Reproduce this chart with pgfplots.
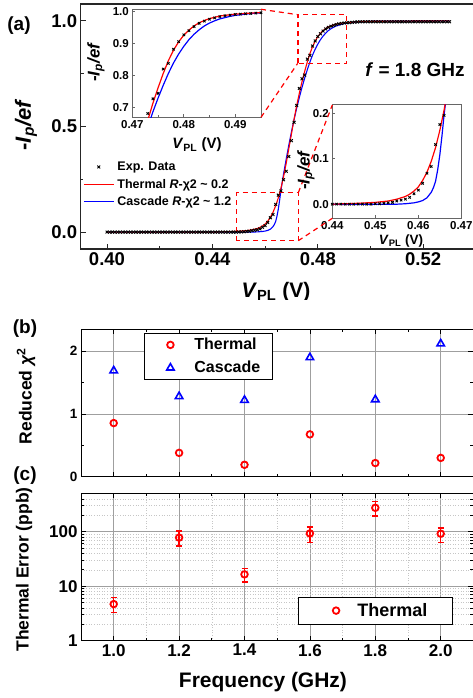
\documentclass[border=0pt]{standalone}
\usepackage{pgfplots}
\pgfplotsset{compat=1.18}
\usepackage{pgfplotstable}
\usepackage{fontspec}
\setmainfont{Liberation Sans}
\newcommand{\fs}[1]{\fontsize{#1}{#1}\selectfont\bfseries}

\pgfplotstableread{
x y
0.400 0.000
0.401 0.000
0.402 0.000
0.403 0.000
0.404 0.000
0.405 0.000
0.406 0.000
0.407 0.000
0.408 0.000
0.409 0.000
0.410 0.000
0.411 0.000
0.412 0.000
0.413 0.000
0.414 0.000
0.415 0.000
0.416 0.000
0.417 0.000
0.418 0.000
0.419 0.000
0.420 0.000
0.421 0.000
0.422 0.000
0.423 0.000
0.424 0.000
0.425 0.000
0.426 0.000
0.427 0.000
0.428 0.000
0.429 0.000
0.430 0.000
0.431 0.000
0.432 0.000
0.433 0.000
0.434 0.000
0.435 0.000
0.436 0.000
0.437 0.000
0.438 0.000
0.439 0.000
0.440 0.000
0.441 0.000
0.442 0.000
0.443 0.000
0.444 0.000
0.445 0.000
0.446 0.000
0.447 0.000
0.448 0.000
0.449 0.000
0.450 0.001
0.451 0.001
0.452 0.002
0.453 0.003
0.454 0.004
0.455 0.007
0.456 0.009
0.457 0.011
0.458 0.015
0.459 0.023
0.460 0.031
0.461 0.046
0.462 0.068
0.463 0.083
0.464 0.131
0.465 0.175
0.466 0.195
0.467 0.248
0.468 0.288
0.469 0.358
0.470 0.433
0.471 0.520
0.472 0.600
0.473 0.680
0.474 0.726
0.475 0.743
0.476 0.819
0.477 0.837
0.478 0.881
0.479 0.905
0.480 0.926
0.481 0.939
0.482 0.952
0.483 0.962
0.484 0.969
0.485 0.975
0.486 0.979
0.487 0.983
0.488 0.986
0.489 0.988
0.490 0.990
0.491 0.991
0.492 0.992
0.493 0.993
0.494 0.994
0.495 0.995
0.496 0.996
0.497 0.996
0.498 0.996
0.499 0.996
0.500 0.996
0.501 0.996
0.502 0.996
0.503 0.996
0.504 0.996
0.505 0.996
0.506 0.996
0.507 0.996
0.508 0.996
0.509 0.996
0.510 0.996
0.511 0.996
0.512 0.996
0.513 0.996
0.514 0.996
0.515 0.996
0.516 0.996
0.517 0.996
0.518 0.996
0.519 0.996
0.520 0.996
0.521 0.996
0.522 0.996
0.523 0.996
0.524 0.996
0.525 0.996
0.526 0.996
0.527 0.996
0.528 0.996
0.529 0.996
0.530 0.996
}\expdata

\pgfplotstableread{
x y
0.400 0.000
0.440 0.000
0.443 0.001
0.446 0.002
0.448 0.003
0.450 0.004
0.451 0.005
0.452 0.006
0.453 0.007
0.454 0.009
0.455 0.011
0.456 0.014
0.457 0.017
0.458 0.022
0.459 0.029
0.460 0.038
0.461 0.052
0.462 0.070
0.463 0.094
0.464 0.124
0.465 0.162
0.466 0.207
0.467 0.262
0.468 0.325
0.469 0.395
0.470 0.465
0.471 0.535
0.472 0.600
0.473 0.658
0.474 0.712
0.475 0.760
0.476 0.805
0.477 0.845
0.478 0.878
0.479 0.904
0.480 0.925
0.481 0.941
0.482 0.954
0.483 0.964
0.484 0.971
0.485 0.977
0.486 0.981
0.487 0.985
0.488 0.987
0.489 0.989
0.490 0.991
0.492 0.993
0.494 0.995
0.497 0.997
0.500 0.998
0.510 0.999
0.530 1.000
}\thermal

\pgfplotstableread{
x y
0.400 0.000
0.455 0.000
0.457 0.001
0.459 0.003
0.460 0.005
0.461 0.008
0.462 0.014
0.463 0.026
0.4635 0.036
0.464 0.050
0.4645 0.075
0.465 0.108
0.4655 0.150
0.466 0.197
0.467 0.275
0.468 0.345
0.469 0.412
0.470 0.475
0.471 0.533
0.472 0.588
0.473 0.638
0.474 0.685
0.475 0.728
0.476 0.768
0.477 0.805
0.478 0.838
0.479 0.866
0.480 0.890
0.481 0.911
0.482 0.928
0.483 0.942
0.484 0.954
0.485 0.963
0.486 0.970
0.487 0.976
0.488 0.980
0.489 0.984
0.490 0.987
0.492 0.991
0.494 0.994
0.497 0.996
0.500 0.998
0.510 0.999
0.530 1.000
}\cascade

\pgfplotsset{
  myaxis/.style={scale only axis, anchor=south west, tick align=inside,
    /pgf/number format/assume math mode=true,
    axis background/.style={fill=white}},
}

\begin{document}
\begin{tikzpicture}
\useasboundingbox (0pt,0pt) rectangle (472pt,-698pt);

% ---------------- panel (a) main ----------------
\begin{axis}[myaxis, at={(80.65pt,-249pt)}, width=395.25pt, height=245pt,
  xmin=0.39, xmax=0.54, ymin=-0.08, ymax=1.08,
  xtick={0.40,0.44,0.48,0.52}, xticklabels={0.40,0.44,0.48,0.52},
  minor xtick={0.42,0.46,0.50},
  ytick={0,0.5,1}, yticklabels={0.0,0.5,1.0}, minor ytick={0.25,0.75},
  tick pos=left,
  axis line style={line width=1.2pt, black!85},
  major tick length=5pt, minor tick length=3pt,
  every tick/.style={line width=1pt, black!85},
  ticklabel style={font=\fs{18.5}},
  legend style={at={(0.006,0.3716)}, anchor=north west, fill=white, draw=white,
    font=\fs{12.5}, inner sep=0pt, row sep=0pt, nodes={inner sep=0pt}},
  legend cell align=left,
]
\addplot[only marks, mark=x, mark size=2pt, black, line width=0.9pt,
  legend image code/.code={\path[draw=none,fill=none] (0pt,-8.75pt) rectangle (33.7pt,8.75pt);
    \draw[only marks, mark=x, mark size=2pt, black, line width=0.9pt] plot coordinates {(15pt,0pt)};}] table {\expdata};
\addlegendentry{Exp. Data}
\addplot[color=blue, line width=1.1pt, mark=none, forget plot] table {\cascade};
\addplot[color=red, line width=1.1pt, mark=none,
  legend image code/.code={\path[draw=none,fill=none] (0pt,-8.75pt) rectangle (33.7pt,8.75pt);
    \draw[draw=red, line width=1.1pt] (0pt,0pt) -- (30pt,0pt);}] table {\thermal};
\addlegendentry{Thermal \textit{R}-χ2 \textasciitilde{} 0.2}
\addlegendimage{color=blue, line width=1.1pt, mark=none,
  legend image code/.code={\path[draw=none,fill=none] (0pt,-8.75pt) rectangle (33.7pt,8.75pt);
    \draw[draw=blue, line width=1.1pt] (0pt,0pt) -- (30pt,0pt);}}
\addlegendentry{Cascade \textit{R}-χ2 \textasciitilde{} 1.2}
\draw[red, line width=1.2pt, dash pattern=on 5pt off 4pt] (axis cs:0.4725,0.80) rectangle (axis cs:0.491,1.03);
\draw[red, line width=1.2pt, dash pattern=on 5pt off 4pt] (axis cs:0.4492,-0.04) rectangle (axis cs:0.4726,0.187);
\end{axis}

% ---------------- inset 1 ----------------
\begin{axis}[myaxis, at={(132.3pt,-117.3pt)}, width=128.7pt, height=108pt,
  xmin=0.47, xmax=0.495, ymin=0.668, ymax=1.006,
  xtick={0.47,0.48,0.49}, xticklabels={0.47,0.48,0.49}, minor xtick={0.475,0.485},
  ytick={0.7,0.8,0.9,1.0}, yticklabels={0.7,0.8,0.9,1.0},
  tick pos=left,
  axis line style={line width=1pt, black!60},
  major tick length=3pt, minor tick length=2pt,
  every tick/.style={line width=0.8pt, black!60},
  ticklabel style={font=\fs{11.5}},
]
\addplot[blue, line width=1.2pt, mark=none] table {\cascade};
\addplot[red, line width=1.2pt, mark=none] table {\thermal};
\addplot[only marks, mark=x, mark size=1.7pt, black, line width=0.9pt] table {\expdata};
\end{axis}

% ---------------- inset 2 ----------------
\begin{axis}[myaxis, at={(332.3pt,-218.3pt)}, width=129pt, height=113.3pt,
  xmin=0.44, xmax=0.47, ymin=-0.031, ymax=0.218,
  xtick={0.44,0.45,0.46,0.47}, xticklabels={0.44,0.45,0.46,0.47},
  ytick={0,0.1,0.2}, yticklabels={0.0,0.1,0.2},
  tick pos=left,
  axis line style={line width=1pt, black!60},
  major tick length=3pt, minor tick length=2pt,
  every tick/.style={line width=0.8pt, black!60},
  ticklabel style={font=\fs{11.5}},
]
\addplot[blue, line width=1.2pt, mark=none] table {\cascade};
\addplot[red, line width=1.2pt, mark=none] table {\thermal};
\addplot[only marks, mark=x, mark size=1.7pt, black, line width=0.9pt] table {\expdata};
\end{axis}

% connecting dashed lines
\begin{scope}[red, line width=1.2pt, dash pattern=on 5pt off 4pt]
\draw (261pt,-9.3pt) -- (297.7pt,-14.7pt);
\draw (261pt,-117.3pt) -- (297.7pt,-63.3pt);
\draw (298.3pt,-192.7pt) -- (332.3pt,-105pt);
\draw (298.3pt,-240.7pt) -- (332.3pt,-218.3pt);
\end{scope}

% labels panel (a)
\node at (19pt,-26pt) {\fs{19}(a)};
\node[rotate=90] at (26pt,-125pt) {\fs{22}-\textit{I}\textsubscript{\textit{p}}\textit{/ef}};
\node[anchor=base] at (276pt,-297.5pt) {\fs{21}\textit{V}\textsubscript{PL} (V)};
\node[rotate=90] at (96pt,-62pt) {\fs{17}-\textit{I}\textsubscript{\textit{p}}\textit{/ef}};
\node at (197pt,-145pt) {\fs{15}\textit{V}\textsubscript{PL} (V)};
\node[rotate=90] at (306pt,-170pt) {\fs{17}-\textit{I}\textsubscript{\textit{p}}\textit{/ef}};
\node at (401pt,-241pt) {\fs{13.5}\textit{V}\textsubscript{PL} (V)};
\node at (415pt,-70pt) {\fs{19}\textit{f} = 1.8 GHz};

\fill[white] (150pt,-300pt) rectangle (472pt,-326pt);

% ---------------- panel (b) ----------------
\begin{axis}[myaxis, at={(81pt,-476.7pt)}, width=392.4pt, height=147.4pt,
  xmin=0.9, xmax=2.1, ymin=0, ymax=2.35,
  xtick={1,1.2,1.4,1.6,1.8,2}, xticklabels={}, minor xtick={1.1,1.3,1.5,1.7,1.9},
  ytick={0,1,2}, yticklabels={0,1,2}, minor ytick={0.5,1.5},
  grid=major, major grid style={line width=0.8pt, gray!75},
  axis line style={line width=1pt, black},
  major tick length=5pt, minor tick length=3pt,
  every tick/.style={line width=0.8pt, black},
  ticklabel style={font=\fs{13.5}},
  legend style={at={(0.1606,0.975)}, anchor=north west, draw=black, line width=0.8pt,
    font=\fs{16}, inner sep=0pt, row sep=0pt, nodes={inner sep=0pt}},
  legend cell align=left,
  legend image code/.code={\path[draw=none,fill=none] (0pt,-11.5pt) rectangle (50pt,11.5pt);
     \draw[#1] plot coordinates {(26pt,0pt)};},
]
\addplot[only marks, mark=o, red, mark size=3.3pt, line width=1.8pt] coordinates {
(1.0,0.855) (1.2,0.38) (1.4,0.19) (1.6,0.675) (1.8,0.218) (2.0,0.30)};
\addlegendentry{\makebox[78pt][l]{Thermal}}
\addplot[only marks, mark=triangle, blue, mark size=4.3pt, line width=1.6pt] coordinates {
(1.0,1.69) (1.2,1.28) (1.4,1.22) (1.6,1.90) (1.8,1.23) (2.0,2.12)};
\addlegendentry{\makebox[78pt][l]{Cascade}}
\end{axis}

% ---------------- panel (c) ----------------
\begin{axis}[myaxis, at={(81pt,-640.7pt)}, width=392.4pt, height=147.4pt,
  xmin=0.9, xmax=2.1, ymode=log, ymin=1, ymax=507,
  xtick={1,1.2,1.4,1.6,1.8,2}, xticklabels={1.0,1.2,1.4,1.6,1.8,2.0},
  minor xtick={1.1,1.3,1.5,1.7,1.9},
  ytick={1,10,100}, yticklabels={1,10,100},
  minor ytick={2,3,4,5,6,7,8,9,20,30,40,50,60,70,80,90,200,300,400,500},
  grid=both, major grid style={line width=0.8pt, gray!75},
  minor grid style={line width=0.6pt, gray!45, dotted},
  axis line style={line width=1pt, black},
  major tick length=5pt, minor tick length=3pt,
  every tick/.style={line width=0.8pt, black},
  ticklabel style={font=\fs{17}},
  legend style={at={(0.553,0.2985)}, anchor=north west, draw=black, line width=0.8pt,
    font=\fs{18}, inner sep=0pt, row sep=0pt, nodes={inner sep=0pt}},
  legend cell align=left,
  legend image code/.code={\path[draw=none,fill=none] (0pt,-13.5pt) rectangle (59pt,13.5pt);
     \draw[#1] plot coordinates {(37.7pt,0pt)};},
]
\addplot[only marks, mark=o, red, mark size=3.3pt, line width=1.8pt,
  error bars/.cd, y dir=both, y explicit,
  error bar style={line width=1.5pt, red},
  error mark options={line width=1.5pt, red, mark size=3pt, rotate=90}] coordinates {
(1.0,4.7) += (0,1.56) -= (0,1.38)
(1.2,78) += (0,26) -= (0,23)
(1.4,16.5) += (0,4.8) -= (0,4.6)
(1.6,93) += (0,30) -= (0,29)
(1.8,275) += (0,80) -= (0,81)
(2.0,92) += (0,26) -= (0,28)
};
\addlegendentry{\makebox[95pt][l]{Thermal}}
\end{axis}

\node at (25pt,-329pt) {\fs{19}(b)};
\node at (25pt,-476pt) {\fs{19}(c)};
\node[rotate=90] at (26pt,-396pt) {\fs{17.5}Reduced \textit{χ}\textsuperscript{2}};
\node[rotate=90] at (24pt,-569.5pt) {\fs{17.5}Thermal Error (ppb)};
\node at (263pt,-682pt) {\fs{21}Frequency (GHz)};
\end{tikzpicture}
\end{document}
